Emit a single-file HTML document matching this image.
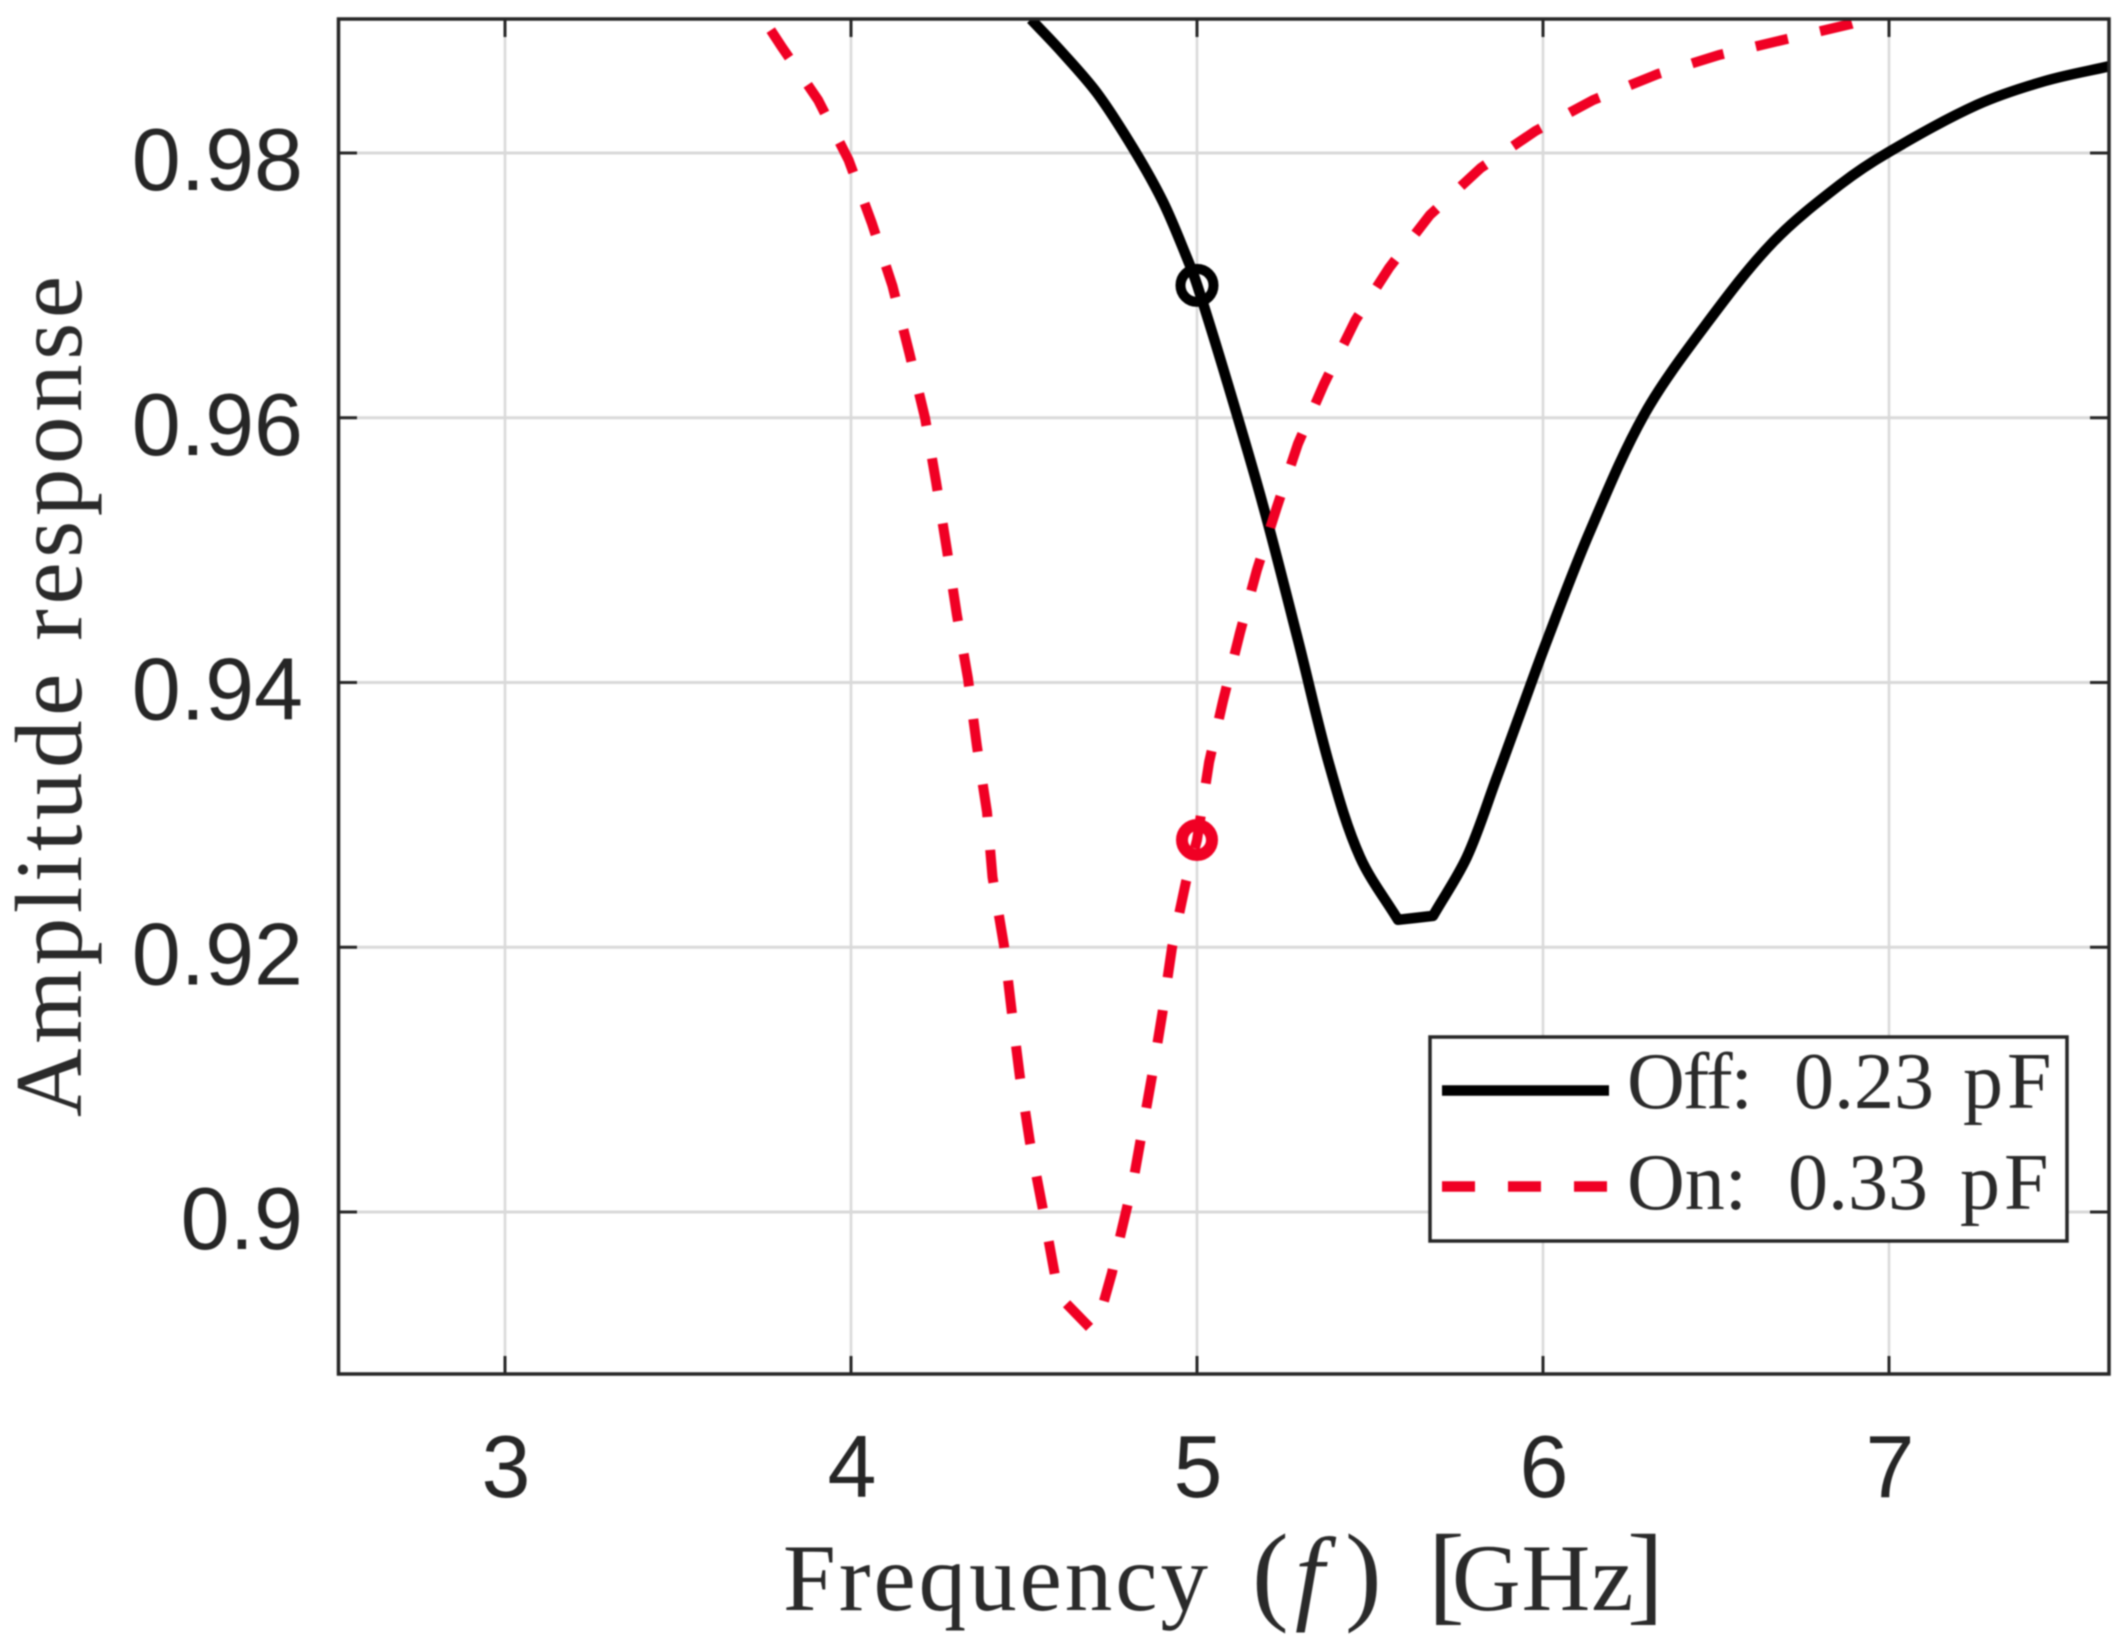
<!DOCTYPE html>
<html lang="en">
<head>
<meta charset="utf-8">
<title>Amplitude response vs frequency</title>
<style>
html,body{margin:0;padding:0;background:#fff;width:2125px;height:1648px;overflow:hidden}
svg{display:block;filter:blur(0.7px)}
.tick-label{font-family:"Liberation Sans",sans-serif;font-size:88px;fill:#262626}
.axis-title{font-family:"Liberation Serif",serif;font-size:95px;fill:#2a2a2a}
.legend-text{font-family:"Liberation Serif",serif;font-size:80px;fill:#2a2a2a}
</style>
</head>
<body>
<svg id="chart" xmlns="http://www.w3.org/2000/svg" width="2125" height="1648" viewBox="0 0 2125 1648">
  <rect x="0" y="0" width="2125" height="1648" fill="#fff"/>
  <defs><clipPath id="plot-clip"><rect x="338.5" y="19" width="1770.5" height="1355"/></clipPath></defs>
  <g id="grid"></g>
  <g id="series" clip-path="url(#plot-clip)"></g>
  <rect x="338.5" y="19" width="1770.5" height="1355" fill="none" stroke="#262626" stroke-width="3.5"/>
  <g id="ticks"></g>
  <text class="axis-title" y="1610"><tspan x="783" letter-spacing="3">Frequency</tspan> <tspan x="1252" font-size="110">(</tspan><tspan x="1295" font-size="105" font-style="italic">f</tspan><tspan x="1345" font-size="110">)</tspan> <tspan x="1428" font-size="110">[</tspan><tspan x="1452" letter-spacing="1">GHz</tspan><tspan x="1627" font-size="110">]</tspan></text>
  <text class="axis-title" transform="translate(81,1117) rotate(-90)" x="0" y="0" textLength="841" lengthAdjust="spacing">Amplitude response</text>
  <g>
    <rect x="1430" y="1037" width="637" height="204" fill="#fff" stroke="#262626" stroke-width="3.5"/>
    <line x1="1442" y1="1090.5" x2="1609" y2="1090.5" stroke="#000" stroke-width="10.5"/>
    <text class="legend-text" y="1108"><tspan x="1627" letter-spacing="-2">Off:</tspan> <tspan x="1794">0.23</tspan> <tspan x="1963" letter-spacing="4">pF</tspan></text>
    <line x1="1442" y1="1186.5" x2="1609" y2="1186.5" stroke="#f00024" stroke-width="10.5" stroke-dasharray="33 33"/>
    <text class="legend-text" y="1209"><tspan x="1627">On:</tspan> <tspan x="1788">0.33</tspan> <tspan x="1960" letter-spacing="4">pF</tspan></text>
  </g>
</svg>
<script>
const xTicks = [3, 4, 5, 6, 7];
const yTicks = [0.98, 0.96, 0.94, 0.92, 0.9];
const yTickLabels = ["0.98", "0.96", "0.94", "0.92", "0.9"];

const offFreq = [4.52, 4.604, 4.711, 4.815, 4.902, 4.971, 5.0, 5.075, 5.19, 5.292, 5.384, 5.471, 5.581, 5.682, 5.78, 5.867, 5.925, 6.012, 6.136, 6.292, 6.468, 6.665, 6.861, 7.0, 7.254, 7.451, 7.64];
const offAmp = [0.9901, 0.98778, 0.98453, 0.98038, 0.9763, 0.97207, 0.97006, 0.96376, 0.95348, 0.94321, 0.93362, 0.92682, 0.92207, 0.92237, 0.92682, 0.93287, 0.937, 0.94321, 0.95144, 0.96021, 0.96693, 0.97328, 0.97766, 0.98008, 0.98363, 0.98544, 0.98657];

const onFreq = [3.72, 3.8, 3.905, 3.993, 4.06, 4.12, 4.168, 4.214, 4.246, 4.277, 4.306, 4.338, 4.364, 4.393, 4.409, 4.442, 4.465, 4.488, 4.517, 4.555, 4.59, 4.607, 4.694, 4.728, 4.754, 4.777, 4.798, 4.82, 4.87, 4.9, 4.928, 4.968, 5.0, 5.035, 5.075, 5.124, 5.173, 5.231, 5.292, 5.367, 5.458, 5.555, 5.673, 5.82, 5.978, 6.145, 6.332, 6.509, 6.705, 6.891, 6.95];
const onAmp = [0.9912, 0.98801, 0.984, 0.97947, 0.97471, 0.96995, 0.96497, 0.96, 0.95514, 0.95008, 0.9451, 0.94034, 0.9352, 0.93022, 0.9253, 0.92017, 0.91503, 0.91027, 0.90529, 0.90015, 0.89516, 0.8935, 0.89116, 0.89298, 0.89539, 0.89804, 0.90038, 0.90294, 0.91027, 0.91503, 0.92002, 0.92493, 0.9281, 0.93399, 0.9386, 0.94374, 0.9485, 0.95326, 0.95804, 0.96255, 0.96738, 0.97131, 0.97532, 0.97887, 0.98166, 0.984, 0.98597, 0.9874, 0.98861, 0.98975, 0.9902];

const markerFreq = [5, 5];
const markerAmp = [0.97, 0.9281];

function xScale(f) { return 505 + (f - 3) * 346; }
function yScale(a) { return 153 + (0.98 - a) * 13237.5; }

const NS = "http://www.w3.org/2000/svg";
const gridLayer = document.getElementById("grid");
const tickLayer = document.getElementById("ticks");
const seriesLayer = document.getElementById("series");

function attrs(el, map) { for (const k in map) el.setAttribute(k, map[k]); return el; }

xTicks.forEach(function (t) {
  const x = xScale(t);
  const g = attrs(document.createElementNS(NS, "line"), {x1: x, x2: x, y1: 19, y2: 1374, stroke: "#d9d9d9", "stroke-width": 2.6});
  
  
  gridLayer.appendChild(g);
  [[19, 37], [1374, 1356]].forEach(function (p) {
    const m = attrs(document.createElementNS(NS, "line"), {x1: x, x2: x, y1: p[0], y2: p[1], stroke: "#262626", "stroke-width": 3});
    
    
    tickLayer.appendChild(m);
  });
  const l = attrs(document.createElementNS(NS, "text"), {x: x + 1, y: 1497, "text-anchor": "middle", class: "tick-label"});
  
  
  l.textContent = String(t);
  tickLayer.appendChild(l);
});

yTicks.forEach(function (t, i) {
  const y = yScale(t);
  const g = attrs(document.createElementNS(NS, "line"), {x1: 338.5, x2: 2109, y1: y, y2: y, stroke: "#d9d9d9", "stroke-width": 3});
  
  
  gridLayer.appendChild(g);
  [[338.5, 357], [2109, 2090]].forEach(function (p) {
    const m = attrs(document.createElementNS(NS, "line"), {x1: p[0], x2: p[1], y1: y, y2: y, stroke: "#262626", "stroke-width": 3});
    
    
    tickLayer.appendChild(m);
  });
  const l = attrs(document.createElementNS(NS, "text"), {x: 303, y: y + 37, "text-anchor": "end", class: "tick-label"});
  
  
  l.textContent = yTickLabels[i];
  tickLayer.appendChild(l);
});

function pointsOf(xs, ys) {
  return xs.map(function (f, i) { return [xScale(f), yScale(ys[i])]; });
}

/* Smooth path through the points, keeping sharp corners where the curve turns abruptly. */
function smoothPath(pts) {
  function dir(a, b) { const dx = b[0] - a[0], dy = b[1] - a[1], l = Math.hypot(dx, dy) || 1; return [dx / l, dy / l]; }
  let d = "M" + pts[0][0].toFixed(1) + " " + pts[0][1].toFixed(1);
  function tangent(i, side) {
    if (i === 0) return dir(pts[0], pts[1]);
    if (i === pts.length - 1) return dir(pts[i - 1], pts[i]);
    const a = dir(pts[i - 1], pts[i]), b = dir(pts[i], pts[i + 1]);
    if (a[0] * b[0] + a[1] * b[1] < Math.cos(25 * Math.PI / 180)) return side < 0 ? a : b;
    return dir(pts[i - 1], pts[i + 1]);
  }
  for (let i = 0; i < pts.length - 1; i++) {
    const p = pts[i], q = pts[i + 1], s = Math.hypot(q[0] - p[0], q[1] - p[1]) / 3;
    const t0 = tangent(i, 1), t1 = tangent(i + 1, -1);
    d += " C" + (p[0] + t0[0] * s).toFixed(1) + " " + (p[1] + t0[1] * s).toFixed(1) + " " +
      (q[0] - t1[0] * s).toFixed(1) + " " + (q[1] - t1[1] * s).toFixed(1) + " " + q[0].toFixed(1) + " " + q[1].toFixed(1);
  }
  return d;
}

const offLine = attrs(document.createElementNS(NS, "path"), {d: smoothPath(pointsOf(offFreq, offAmp)), fill: "none", stroke: "#000", "stroke-width": 10.5, "stroke-linejoin": "round"});


seriesLayer.appendChild(offLine);

/* Align the dash phase so a dash starts just past the first bend of the dip. */
const onPts = pointsOf(onFreq, onAmp);
const onDip = onAmp.indexOf(Math.min.apply(null, onAmp));
let lengthToBend = 0;
for (let i = 1; i < onDip; i++) lengthToBend += Math.hypot(onPts[i][0] - onPts[i - 1][0], onPts[i][1] - onPts[i - 1][1]);

const onLine = attrs(document.createElementNS(NS, "polyline"), {points: onPts.map(function (p) { return p[0].toFixed(1) + "," + p[1].toFixed(1); }).join(" "), fill: "none", stroke: "#f00024", "stroke-width": 10, "stroke-dasharray": "33 33", "stroke-dashoffset": (-(lengthToBend + 8)).toFixed(1)});


seriesLayer.appendChild(onLine);

const markerColors = ["#000", "#f00024"];
const markerRadii = [16.5, 15];
const markerWidths = [10, 12];
markerFreq.forEach(function (f, i) {
  const c = attrs(document.createElementNS(NS, "circle"), {cx: xScale(f), cy: yScale(markerAmp[i]), r: markerRadii[i], fill: "none", stroke: markerColors[i], "stroke-width": markerWidths[i]});
  
  
  seriesLayer.appendChild(c);
});
</script>
</body>
</html>
